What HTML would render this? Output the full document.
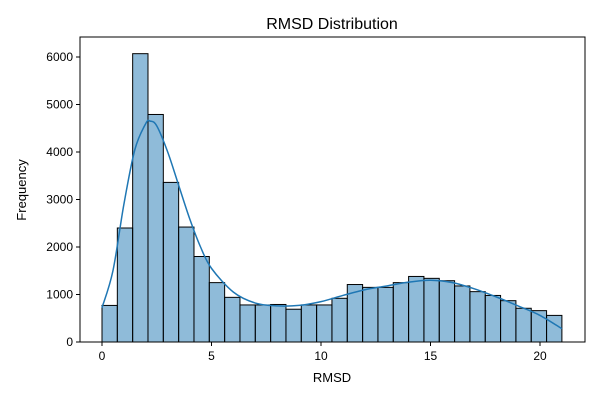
<!DOCTYPE html>
<html><head><meta charset="utf-8"><style>
body{margin:0;background:#fff;font-family:"Liberation Sans",sans-serif}
</style></head><body>
<svg id="c" width="600" height="400" xmlns="http://www.w3.org/2000/svg" font-family="Liberation Sans, sans-serif">
<rect width="600" height="400" fill="#fff"/>
<g id="bars"></g><g id="kde"></g><g id="axes"></g>
<text x="332" y="29" font-size="16" text-anchor="middle">RMSD Distribution</text>
<text x="332" y="382" font-size="13" text-anchor="middle">RMSD</text>
<text transform="translate(26,190) rotate(-90)" font-size="13" text-anchor="middle">Frequency</text>
</svg>
<script>
const binStart=0, binWidth=0.7;
const counts=[770,2400,6070,4790,3360,2420,1800,1250,940,780,780,790,690,780,780,920,1210,1150,1150,1250,1380,1340,1290,1180,1060,980,870,710,660,560];
const kdeX=[0,0.5,1,1.5,2,2.2,2.5,3,3.5,4,4.5,5,6,7,8,9,10,11,12,13,14,15,16,17,18,19,20,21];
const kdeY=[720,1500,2900,4050,4600,4650,4550,4000,3300,2600,2000,1550,1050,820,760,770,850,980,1100,1180,1260,1300,1250,1120,950,760,560,280];
const xTicks=[0,5,10,15,20];
const yTicks=[0,1000,2000,3000,4000,5000,6000];
const L=80,R=585,T=37,B=342;
const X=v=>102+v*21.9, Y=v=>B-v*0.0475;
const ns="http://www.w3.org/2000/svg";
function mk(t,a,p){const e=document.createElementNS(ns,t);for(const k in a)e.setAttribute(k,a[k]);p.appendChild(e);return e;}
const gb=document.getElementById('bars');
counts.forEach((c,i)=>{const x0=X(binStart+i*binWidth),x1=X(binStart+(i+1)*binWidth);
const r=mk('rect',{x:x0,y:Y(c),width:x1-x0,height:B-Y(c),fill:'rgba(31,119,180,0.5)',stroke:'#000','stroke-width':1},gb);

});
const gk=document.getElementById('kde');
const P=kdeX.map((x,i)=>[X(x),Y(kdeY[i])]);
let d='M'+P[0][0]+','+P[0][1];
for(let i=0;i<P.length-1;i++){const p0=P[i-1]||P[i],p1=P[i],p2=P[i+1],p3=P[i+2]||P[i+1];
d+=' C'+(p1[0]+(p2[0]-p0[0])/6)+','+(p1[1]+(p2[1]-p0[1])/6)+' '+(p2[0]-(p3[0]-p1[0])/6)+','+(p2[1]-(p3[1]-p1[1])/6)+' '+p2[0]+','+p2[1];}
const pl=mk('path',{d:d,fill:'none',stroke:'#1f77b4','stroke-width':1.5},gk);


const ga=document.getElementById('axes');
const fr=mk('rect',{x:L,y:T,width:R-L,height:B-T,fill:'none',stroke:'#000','stroke-width':1},ga);


xTicks.forEach(v=>{mk('line',{x1:X(v),x2:X(v),y1:B,y2:B+4,stroke:'#000'},ga);
const t=mk('text',{x:X(v),y:B+18,'font-size':12,'text-anchor':'middle'},ga);t.textContent=v;

});
yTicks.forEach(v=>{mk('line',{x1:L-4,x2:L,y1:Y(v),y2:Y(v),stroke:'#000'},ga);
const t=mk('text',{x:L-7,y:Y(v)+4,'font-size':12,'text-anchor':'end'},ga);t.textContent=v;

});
</script>
</body></html>
